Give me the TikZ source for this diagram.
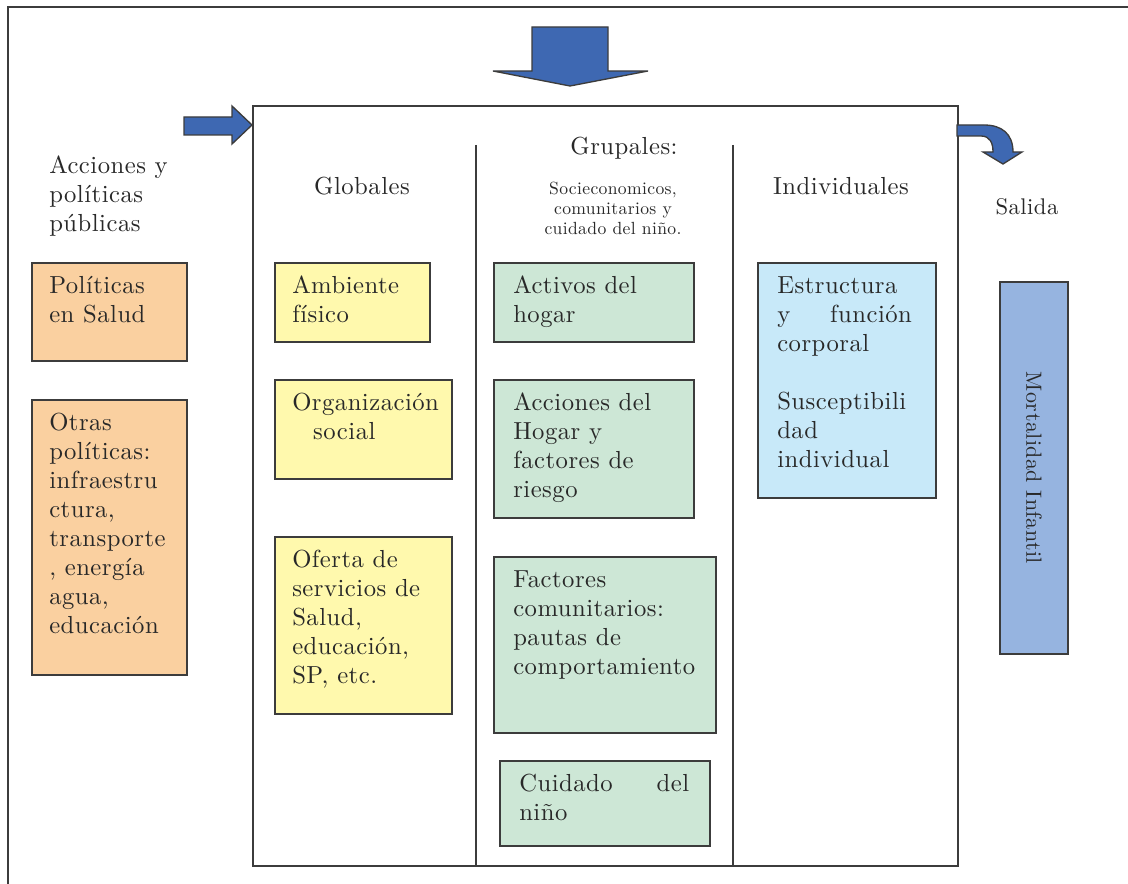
\documentclass[tikz,border=0pt]{standalone}
\usepackage{xcolor}
\usepackage{fontspec}
\usepackage{tikz}

\setmainfont{lmroman10-regular.otf}[LetterSpace=2]
\definecolor{peach}{RGB}{250,208,160}
\definecolor{paleyellow}{RGB}{255,249,173}
\definecolor{palegreen}{RGB}{205,231,214}
\definecolor{paleblue}{RGB}{200,233,249}
\definecolor{mortblue}{RGB}{150,180,224}
\definecolor{arrowblue}{RGB}{62,104,178}
\definecolor{linegray}{RGB}{60,60,60}
\definecolor{textgray}{RGB}{40,40,40}
\newcommand{\bodyfont}{\fontsize{18.5}{21.75}\selectfont}
\newcommand{\smallfont}{\fontsize{13.2}{15}\selectfont}

\begin{document}
\begin{tikzpicture}[x=0.75pt, y=-0.75pt,
    cell/.style={draw=linegray, line width=1.4pt, anchor=north west, inner sep=0pt},
    celltext/.style={anchor=north west, align=left, inner xsep=13.5pt, inner ysep=10.5pt, text=textgray, font=\bodyfont},
    heading/.style={text=textgray, font=\bodyfont, inner sep=0pt},
    blockarrow/.style={fill=arrowblue, draw=linegray, line width=1pt, line join=miter}]
    \useasboundingbox (0,0) rectangle (1128,884);
    \draw[line width=1.4pt, linegray] (8,884) -- (8,7) -- (1128,7);

    % main frame and its columns
    \node[cell, minimum width=528.75pt, minimum height=570pt] at (252,105) (frame) {};
    \draw[line width=1.1pt, linegray] (476,145) -- (476,865);
    \draw[line width=1.1pt, linegray] (733,145) -- (733,865);

    % arrows
    \draw[blockarrow] (532,27) -- (608,27) -- (608,71) -- (648,71) -- (570,86) -- (493,71) -- (532,71) -- cycle;
    \draw[blockarrow] (184,117) -- (232,117) -- (232,106) -- (252,125) -- (232,144) -- (232,135) -- (184,135) -- cycle;
    \draw[blockarrow] (957,125) -- (984,125) .. controls (1002,125) and (1013,134) .. (1013,152)
        -- (1022,152) -- (1003,164) -- (983,152) -- (993,152)
        .. controls (993,143) and (990,136) .. (981,136) -- (957,136) -- cycle;

    % headings
    \node[heading, align=left, anchor=west] at (49,196) (acciones) {Acciones y\\políticas\\públicas};
    \node[heading] at (362,186) (globales) {Globales};
    \node[heading] at (624,148) (grupales) {Grupales:};
    \node[heading, font=\smallfont, align=center] at (613,208) (grupsub) {Socieconomicos,\\comunitarios y\\cuidado del niño.};
    \node[heading] at (841,186) (individuales) {Individuales};
    \node[heading, font=\fontsize{17}{20}\selectfont] at (1027,207) (salida) {Salida};

    % policies
    \node[cell, fill=peach, minimum width=116.25pt, minimum height=73.5pt] at (31,262) (pol) {};
    \node[celltext] at (pol.north west) (pol-t) {Políticas\\en Salud};
    \node[cell, fill=peach, minimum width=116.25pt, minimum height=206.25pt] at (31,399) (otras) {};
    \node[celltext] at (otras.north west) (otras-t) {Otras\\políticas:\\infraestru\\ctura,\\transporte\\, energía\\agua,\\educación};

    % globales
    \node[cell, fill=paleyellow, minimum width=116.25pt, minimum height=59.25pt] at (274,262) (ambiente) {};
    \node[celltext] at (ambiente.north west) (ambiente-t) {Ambiente\\físico};
    \node[cell, fill=paleyellow, minimum width=132.75pt, minimum height=74.25pt] at (274,379) (org) {};
    \node[celltext] at (org.north west) (org-t) {Organización\\\hspace*{0.85em}social};
    \node[cell, fill=paleyellow, minimum width=132.75pt, minimum height=132.75pt] at (274,536) (oferta) {};
    \node[celltext] at (oferta.north west) (oferta-t) {Oferta de\\servicios de\\Salud,\\educación,\\SP, etc.};

    % grupales
    \node[cell, fill=palegreen, minimum width=150pt, minimum height=59.25pt] at (493,262) (activos) {};
    \node[celltext, inner xsep=15pt] at (activos.north west) (activos-t) {Activos del\\hogar};
    \node[cell, fill=palegreen, minimum width=150pt, minimum height=103.5pt] at (493,379) (hogar) {};
    \node[celltext, inner xsep=15pt] at (hogar.north west) (hogar-t) {Acciones del\\Hogar y\\factores de\\riesgo};
    \node[cell, fill=palegreen, minimum width=166.5pt, minimum height=132pt] at (493,556) (comun) {};
    \node[celltext, inner xsep=15pt] at (comun.north west) (comun-t) {Factores\\comunitarios:\\pautas de\\comportamiento};
    \node[cell, fill=palegreen, minimum width=157.5pt, minimum height=63.75pt] at (499,760) (cuidado) {};
    \node[celltext, inner xsep=15pt, text width=127.5pt] at (cuidado.north west) (cuidado-t) {Cuidado \hfill del\\niño};

    % individuales
    \node[cell, fill=paleblue, minimum width=133.5pt, minimum height=176.25pt] at (757,262) (estructura) {};
    \node[celltext, inner xsep=15pt, text width=101pt] at (estructura.north west) (estructura-t)
        {Estructura\\y \hfill función\\corporal\\[21.75pt]Susceptibili\\dad\\individual};

    % salida
    \node[cell, fill=mortblue, anchor=center, rotate=-90, minimum width=279pt, minimum height=51pt,
        text=textgray, font=\fontsize{16.5}{20}\selectfont] at (1034,468) (mort) {Mortalidad Infantil};
\end{tikzpicture}
\end{document}
